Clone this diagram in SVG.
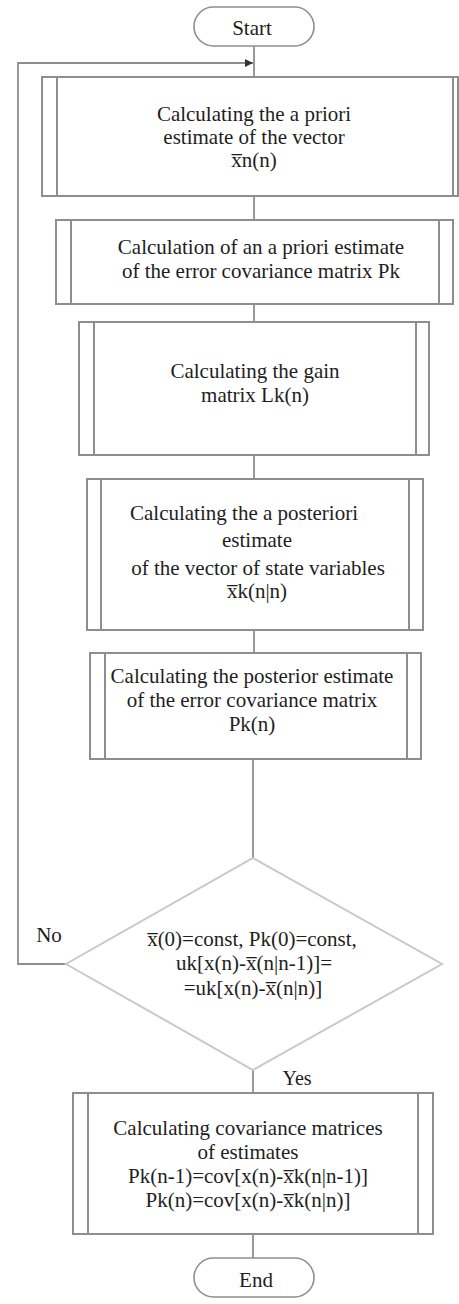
<svg xmlns="http://www.w3.org/2000/svg" width="459" height="1304" viewBox="0 0 459 1304">
<style>
  .box { fill: #ffffff; stroke: #8e8e8e; stroke-width: 2; }
  .inner { stroke: #8e8e8e; stroke-width: 2; fill: none; }
  .term { fill: #ffffff; stroke: #8e8e8e; stroke-width: 1.6; }
  .dia { fill: #ffffff; stroke: #c9c9c9; stroke-width: 2; }
  .conn { stroke: #8e8e8e; stroke-width: 1.8; fill: none; }
  text { font-family: "Liberation Serif", "Times New Roman", serif; font-size: 21px; fill: #1e1e1e; text-anchor: middle; }
</style>
<defs>
  <marker id="arr" viewBox="0 0 10 10" refX="10" refY="5" markerWidth="4.5" markerHeight="4.5" orient="auto" markerUnits="strokeWidth">
    <path d="M0,0 L10,5 L0,10 z" fill="#333333"/>
  </marker>
</defs>

<g id="connectors">
  <line class="conn" x1="254" y1="46" x2="254" y2="77"/>
  <line class="conn" x1="254" y1="196" x2="254" y2="220"/>
  <line class="conn" x1="254" y1="304" x2="254" y2="322"/>
  <line class="conn" x1="254" y1="455" x2="254" y2="479"/>
  <line class="conn" x1="254" y1="630" x2="254" y2="653"/>
  <line class="conn" x1="253" y1="759" x2="253" y2="858"/>
  <line class="conn" x1="253" y1="1070" x2="253" y2="1093"/>
  <line class="conn" x1="253" y1="1234" x2="253" y2="1258"/>
  <polyline class="conn" points="66,964 18,964 18,63 253,63" marker-end="url(#arr)"/>
  <text x="49" y="942">No</text>
  <text x="297" y="1085" style="font-size:20px">Yes</text>
</g>

<g id="start">
  <rect class="term" x="194" y="7" width="120" height="39" rx="19.5" ry="19.5"/>
  <text x="252" y="35">Start</text>
</g>

<g id="box1">
  <rect class="box" x="42" y="77" width="416" height="119"/>
  <line class="inner" x1="57" y1="77" x2="57" y2="196"/>
  <line class="inner" x1="453" y1="77" x2="453" y2="196"/>
  <text x="254" y="121">Calculating the a priori</text>
  <text x="254" y="144">estimate of the vector</text>
  <text x="254" y="167">x&#x305;n(n)</text>
</g>

<g id="box2">
  <rect class="box" x="56" y="220" width="397" height="84"/>
  <line class="inner" x1="71" y1="220" x2="71" y2="304"/>
  <line class="inner" x1="439" y1="220" x2="439" y2="304"/>
  <text x="261" y="254">Calculation of an a priori estimate</text>
  <text x="261" y="278">of the error covariance matrix Pk</text>
</g>

<g id="box3">
  <rect class="box" x="79" y="322" width="350" height="133"/>
  <line class="inner" x1="94" y1="322" x2="94" y2="455"/>
  <line class="inner" x1="416" y1="322" x2="416" y2="455"/>
  <text x="255" y="378">Calculating the gain</text>
  <text x="255" y="402">matrix Lk(n)</text>
</g>

<g id="box4">
  <rect class="box" x="87" y="479" width="336" height="151"/>
  <line class="inner" x1="101" y1="479" x2="101" y2="630"/>
  <line class="inner" x1="409" y1="479" x2="409" y2="630"/>
  <text x="244" y="520">Calculating the a posteriori</text>
  <text x="257" y="547">estimate</text>
  <text x="258" y="575">of the vector of state variables</text>
  <text x="257" y="598">x&#x305;k(n|n)</text>
</g>

<g id="box5">
  <rect class="box" x="90" y="653" width="331" height="106"/>
  <line class="inner" x1="105" y1="653" x2="105" y2="759"/>
  <line class="inner" x1="407" y1="653" x2="407" y2="759"/>
  <text x="252" y="683">Calculating the posterior estimate</text>
  <text x="252" y="707">of the error covariance matrix</text>
  <text x="252" y="731">Pk(n)</text>
</g>

<g id="decision">
  <polygon class="dia" points="253,858 442,964 253,1070 66,964"/>
  <text x="252" y="946">x&#x305;(0)=const, Pk(0)=const,</text>
  <text x="254" y="970">uk[x(n)-x&#x305;(n|n-1)]=</text>
  <text x="253" y="995">=uk[x(n)-x&#x305;(n|n)]</text>
</g>

<g id="box6">
  <rect class="box" x="73" y="1093" width="360" height="141"/>
  <line class="inner" x1="88" y1="1093" x2="88" y2="1234"/>
  <line class="inner" x1="418" y1="1093" x2="418" y2="1234"/>
  <text x="248" y="1135">Calculating covariance matrices</text>
  <text x="248" y="1159">of estimates</text>
  <text x="248" y="1183">Pk(n-1)=cov[x(n)-x&#x305;k(n|n-1)]</text>
  <text x="248" y="1207">Pk(n)=cov[x(n)-x&#x305;k(n|n)]</text>
</g>

<g id="end">
  <rect class="term" x="194" y="1258" width="120" height="39" rx="19.5" ry="19.5"/>
  <text x="256" y="1287">End</text>
</g>
</svg>
